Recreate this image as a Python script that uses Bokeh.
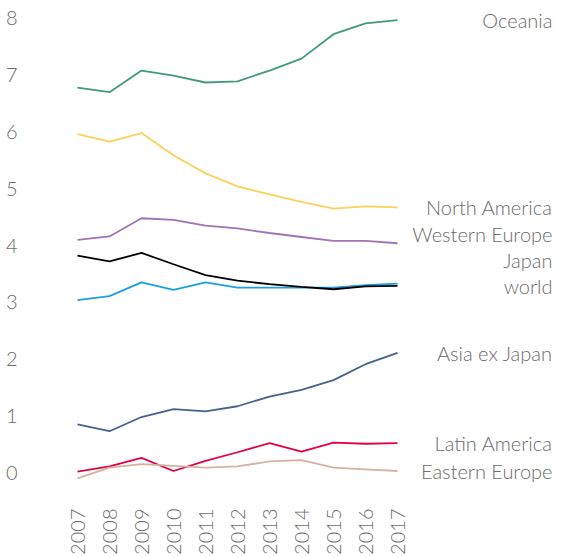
import math
from bokeh.plotting import figure
from bokeh.models import Range1d, FixedTicker, ColumnDataSource, LabelSet
from bokeh.core.properties import value
from bokeh.embed import file_html
from bokeh.resources import INLINE

years = [2007, 2008, 2009, 2010, 2011, 2012, 2013, 2014, 2015, 2016, 2017]

oceania = [6.78, 6.70, 7.08, 6.99, 6.87, 6.89, 7.08, 7.29, 7.72, 7.91, 7.97]
north_america = [5.96, 5.83, 5.98, 5.59, 5.27, 5.04, 4.90, 4.77, 4.65, 4.69, 4.67]
western_europe = [4.10, 4.16, 4.48, 4.45, 4.35, 4.30, 4.22, 4.15, 4.08, 4.08, 4.04]
japan = [3.04, 3.11, 3.35, 3.22, 3.35, 3.26, 3.26, 3.26, 3.26, 3.30, 3.33]
world = [3.82, 3.72, 3.87, 3.67, 3.48, 3.38, 3.32, 3.27, 3.23, 3.28, 3.29]
asia_ex_japan = [0.85, 0.73, 0.98, 1.12, 1.08, 1.17, 1.34, 1.46, 1.63, 1.91, 2.11]
latin_america = [0.02, 0.11, 0.26, 0.03, 0.21, 0.36, 0.52, 0.37, 0.53, 0.51, 0.52]
eastern_europe = [-0.10, 0.09, 0.15, 0.12, 0.09, 0.11, 0.20, 0.22, 0.09, 0.06, 0.03]

names = ["Oceania", "North America", "Western Europe", "Japan", "world",
         "Asia ex Japan", "Latin America", "Eastern Europe"]
series = [oceania, north_america, western_europe, japan, world,
          asia_ex_japan, latin_america, eastern_europe]
colors = ["#3f9a80", "#ffcf5c", "#a073b7", "#1a9fe0", "#000000",
          "#45628f", "#e5003f", "#d4b2a2"]

y_ticks = [0, 1, 2, 3, 4, 5, 6, 7, 8]

FONT = "Lato Light"
TXT = "#6b6b6b"
FS = "20px"

p = figure(width=560, height=557, output_backend="svg", toolbar_location=None,
           x_range=Range1d(2005.5625, 2022.09375),
           y_range=Range1d(-0.3486, 8.3137),
           min_border_left=31, min_border_right=0, min_border_top=0,
           min_border_bottom=60)
p.outline_line_color = None
p.grid.grid_line_color = None
p.background_fill_color = "white"
p.border_fill_color = "white"

for vals, col in zip(series, colors):
    p.line(years, vals, line_color=col, line_width=1.8)

# end labels, spread apart so they don't overlap
gap = 0.46
order = sorted(range(len(series)), key=lambda i: series[i][-1])
pos = {}
prev = None
for i in order:
    y = series[i][-1]
    if prev is not None and y < prev + gap:
        y = prev + gap
    pos[i] = y
    prev = y
src = ColumnDataSource(dict(x=[p.x_range.end] * len(names),
                            y=[pos[i] for i in range(len(names))],
                            t=names))
p.add_layout(LabelSet(x="x", y="y", text="t", source=src, text_align="right",
                      text_baseline="middle", x_offset=-8,
                      text_font=value(FONT), text_font_size=value(FS),
                      text_color=value(TXT)))

for ax in (p.xaxis[0], p.yaxis[0]):
    ax.axis_line_color = None
    ax.major_tick_line_color = None
    ax.minor_tick_line_color = None
    ax.major_label_text_font = FONT
    ax.major_label_text_font_size = FS
    ax.major_label_text_color = TXT

p.xaxis.ticker = FixedTicker(ticks=years)
p.xaxis.major_label_orientation = math.pi / 2
p.xaxis.major_label_standoff = 10
p.yaxis.ticker = FixedTicker(ticks=y_ticks)
p.yaxis.major_label_standoff = 8

open("out.html", "w").write(file_html(p, INLINE))
